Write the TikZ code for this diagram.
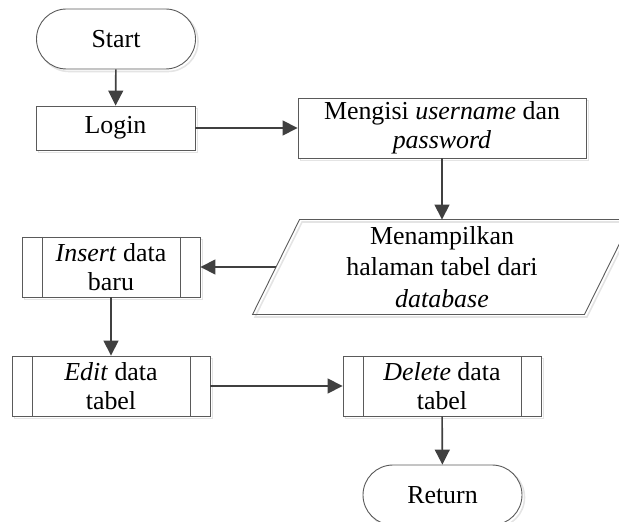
\documentclass[tikz,border=0pt]{standalone}
\usepackage{fontspec}
\setmainfont{Liberation Serif}
\usetikzlibrary{arrows.meta}
\definecolor{edgegray}{HTML}{5A5A5A}
\definecolor{arrowgray}{HTML}{404040}
\definecolor{shadowgray}{HTML}{E4E4E4}
\tikzset{
  faint/.style={preaction={draw=shadowgray, line width=1.6bp,
      transform canvas={shift={(2.5bp,-2.5bp)}}}},
  box/.style={draw=edgegray, line width=0.9bp, fill=white, align=center,
      inner sep=0pt, font=\fontsize{26}{31.5}\selectfont},
  terminal/.style={box, faint, rounded corners=30bp, minimum width=159bp, minimum height=60bp},
  procbox/.style={box, faint},
  subproc/.style={box, faint, minimum height=60bp,
      path picture={
        \draw[edgegray, line width=0.9bp]
          ([xshift=20bp]path picture bounding box.north west) --
          ([xshift=20bp]path picture bounding box.south west);
        \draw[edgegray, line width=0.9bp]
          ([xshift=-20bp]path picture bounding box.north east) --
          ([xshift=-20bp]path picture bounding box.south east);
      }},
  flow/.style={draw=arrowgray, line width=1.6bp,
      -{Triangle[length=15bp, width=15bp]}},
}
\begin{document}
\begin{tikzpicture}[x=1bp, y=-1bp]
  \useasboundingbox (0,0) rectangle (619,522);
  \clip (0,0) rectangle (619,522);

  \node[terminal] (start) at (116,39) {Start};
  \node[procbox, minimum width=159bp, minimum height=44bp] (login) at (115.5,128) {Login};
  \node[procbox, minimum width=288bp, minimum height=60bp] (isi) at (442,128)
    {Mengisi \textit{username} dan\\[-2bp] \textit{password}};

  % input/output shape: a parallelogram around a borderless text node
  \node[box, draw=none, fill=none, minimum width=331bp, minimum height=94bp] (tampil) at (442,267)
    {Menampilkan\\ halaman tabel dari\\ \textit{database}};
  \draw[draw=edgegray, line width=0.9bp, faint]
    ([xshift=-23.5bp]tampil.south west) -- ([xshift=-23.5bp]tampil.south east)
    -- ([xshift=23.5bp]tampil.north east) -- ([xshift=23.5bp]tampil.north west) -- cycle;

  \node[subproc, minimum width=178bp] (insert) at (111,267) {\textit{Insert} data\\[-2bp] baru};
  \node[subproc, minimum width=198bp] (edit) at (111,386) {\textit{Edit} data\\[-2bp] tabel};
  \node[subproc, minimum width=198bp] (delete) at (442,386) {\textit{Delete} data\\[-2bp] tabel};
  \node[terminal] (return) at (442.5,495) {Return};

  \draw[flow] (start) -- (login);
  \draw[flow] (login) -- (isi);
  \draw[flow] (isi) -- (tampil.north);
  \draw[flow] (tampil.west) -- (insert);
  \draw[flow] (insert) -- (edit);
  \draw[flow] (edit) -- (delete);
  \draw[flow] (delete) -- (return);
\end{tikzpicture}
\end{document}
